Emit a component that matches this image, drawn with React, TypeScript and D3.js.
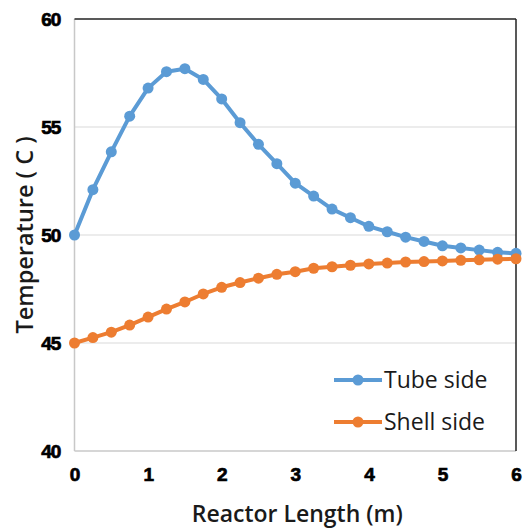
import React, { useRef, useEffect } from 'react';
import * as d3 from 'd3';

// reactor length (m), step 0.25
const lengths = d3.range(0, 6.001, 0.25);
const tubeSide = [50.0, 52.1, 53.85, 55.5, 56.8, 57.56, 57.7, 57.2, 56.3, 55.2, 54.2, 53.3, 52.4,
  51.8, 51.2, 50.8, 50.4, 50.15, 49.9, 49.7, 49.5, 49.4, 49.3, 49.2, 49.15];
const shellSide = [45.0, 45.25, 45.5, 45.83, 46.2, 46.57, 46.9, 47.27, 47.58, 47.8, 48.0, 48.18, 48.3,
  48.46, 48.53, 48.6, 48.66, 48.7, 48.75, 48.77, 48.8, 48.83, 48.85, 48.88, 48.9];
const xTicks = [0, 1, 2, 3, 4, 5, 6];
const yTicks = [40, 45, 50, 55, 60];
const seriesNames = ['Tube side', 'Shell side'];
const seriesColors = ['#5B9BD5', '#ED7D31'];

const App = () => {
  const svgRef = useRef<SVGSVGElement>(null);

  useEffect(() => {
    const width = 531;
    const height = 530;
    const margin = { top: 19, right: 15, bottom: 79, left: 74.5 };

    const svg = d3.select(svgRef.current);
    svg.selectAll('*').remove();

    const x = d3.scaleLinear().domain([0, 6]).range([margin.left, width - margin.right]);
    const y = d3.scaleLinear().domain([40, 60]).range([height - margin.bottom, margin.top]);

    // grid
    svg.append('g')
      .selectAll('line')
      .data(yTicks.filter(t => t > 40 && t < 60))
      .join('line')
      .attr('x1', x(0)).attr('x2', x(6))
      .attr('y1', d => y(d)).attr('y2', d => y(d))
      .attr('stroke', '#d9d9d9').attr('stroke-width', 1.2);

    // frame: left & bottom grey, top & right dark
    svg.append('line').attr('x1', x(0)).attr('x2', x(0)).attr('y1', y(40)).attr('y2', y(60))
      .attr('stroke', '#c8c8c8').attr('stroke-width', 1.5);
    svg.append('line').attr('x1', x(0)).attr('x2', x(6)).attr('y1', y(40)).attr('y2', y(40))
      .attr('stroke', '#c8c8c8').attr('stroke-width', 1.5);
    svg.append('line').attr('x1', x(0)).attr('x2', x(6)).attr('y1', y(60)).attr('y2', y(60))
      .attr('stroke', '#222').attr('stroke-width', 1.5);
    svg.append('line').attr('x1', x(6)).attr('x2', x(6)).attr('y1', y(40)).attr('y2', y(60))
      .attr('stroke', '#222').attr('stroke-width', 1.5);

    // tick labels
    const tickFont = (g: d3.Selection<SVGGElement, unknown, null, undefined>) => g
      .attr('font-family', 'Liberation Sans, Arial, sans-serif')
      .attr('font-weight', 'bold')
      .attr('font-size', 19)
      .attr('letter-spacing', -1.2)
      .attr('stroke', '#000')
      .attr('stroke-width', 0.7);

    svg.append('g')
      .call(tickFont)
      .attr('text-anchor', 'end')
      .selectAll('text')
      .data(yTicks)
      .join('text')
      .attr('x', 60)
      .attr('y', d => y(d))
      .attr('dy', '0.35em')
      .text(d => d);

    svg.append('g')
      .call(tickFont)
      .attr('text-anchor', 'middle')
      .selectAll('text')
      .data(xTicks)
      .join('text')
      .attr('x', d => x(d))
      .attr('y', 474)
      .attr('dy', '0.35em')
      .text(d => d);

    // axis titles
    svg.append('text')
      .attr('x', (x(0) + x(6)) / 2 + 2)
      .attr('y', 522)
      .attr('text-anchor', 'middle')
      .attr('font-family', 'Open Sans, sans-serif')
      .attr('font-weight', 600)
      .attr('font-size', 23)
      .attr('fill', '#1a1a1a')
      .text('Reactor Length (m)');

    svg.append('text')
      .attr('transform', `translate(33,${y(50)}) rotate(-90)`)
      .attr('text-anchor', 'middle')
      .attr('font-family', 'Open Sans, sans-serif')
      .attr('font-weight', 600)
      .attr('font-size', 23.5)
      .attr('fill', '#1a1a1a')
      .text('Temperature ( C )');

    const line = d3.line<number>()
      .x((_, i) => x(lengths[i]))
      .y(d => y(d));

    [tubeSide, shellSide].forEach((values, k) => {
      const g = svg.append('g');
      g.append('path')
        .datum(values)
        .attr('fill', 'none')
        .attr('stroke', seriesColors[k])
        .attr('stroke-width', 4)
        .attr('stroke-linejoin', 'round')
        .attr('d', line);
      g.selectAll('circle')
        .data(values)
        .join('circle')
        .attr('cx', (_, i) => x(lengths[i]))
        .attr('cy', d => y(d))
        .attr('r', 5.5)
        .attr('fill', seriesColors[k]);
    });

    // legend
    const legend = svg.append('g');
    seriesNames.forEach((name, k) => {
      const ly = 380 + k * 42;
      legend.append('line')
        .attr('x1', 334).attr('x2', 382).attr('y1', ly).attr('y2', ly)
        .attr('stroke', seriesColors[k]).attr('stroke-width', 4);
      legend.append('circle')
        .attr('cx', 358).attr('cy', ly).attr('r', 5.5)
        .attr('fill', seriesColors[k]);
      legend.append('text')
        .attr('x', 384).attr('y', ly)
        .attr('dy', '0.36em')
        .attr('font-family', 'Open Sans, sans-serif')
        .attr('font-size', 23)
        .attr('fill', '#1a1a1a')
        .text(name);
    });
  }, []);

  return (
    <svg ref={svgRef} width={531} height={530}
      style={{ position: 'absolute', left: 0, top: 0, background: '#fff' }} />
  );
};

export default App;
